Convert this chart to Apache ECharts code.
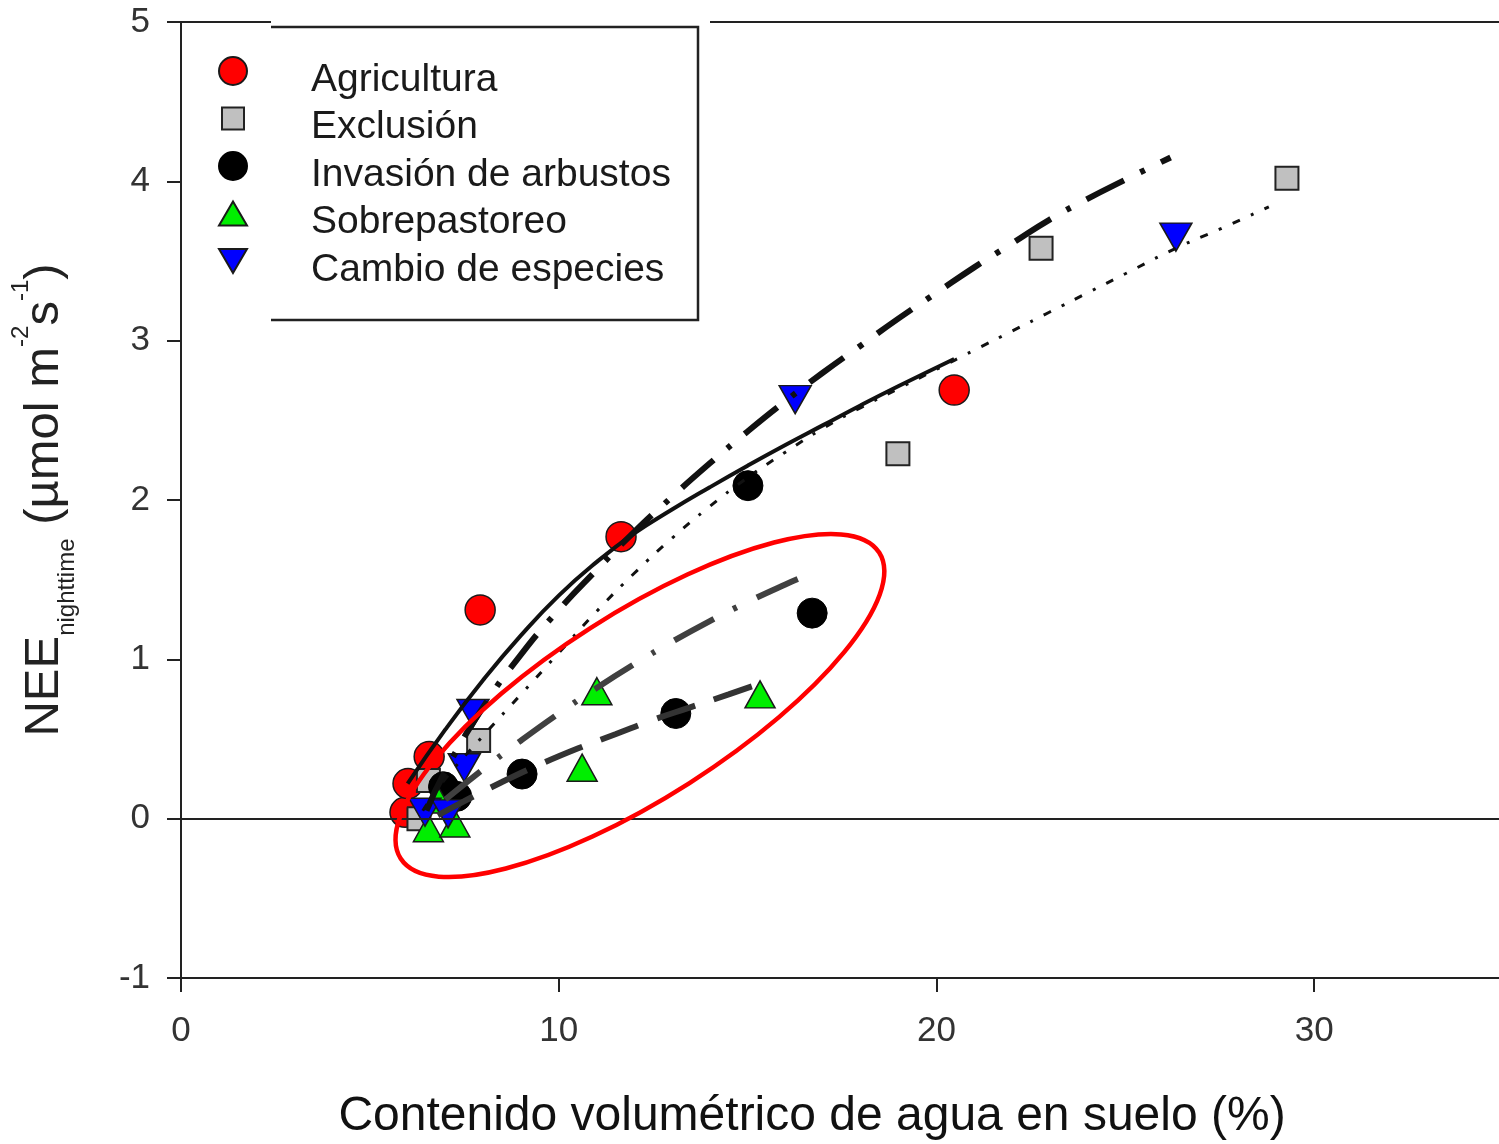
<!DOCTYPE html>
<html>
<head>
<meta charset="utf-8">
<script src="https://cdn.jsdelivr.net/npm/echarts@6/dist/echarts.min.js"></script>
<style>
  html, body { margin: 0; padding: 0; background: #ffffff; width: 100%; height: 100%; overflow: hidden; }
  #chart { position: absolute; left: 0; top: 0; width: 1499px; height: 1144px; }
</style>
</head>
<body>
<div id="chart"></div>
<script>
// Axis ticks
const xTicks = [0, 10, 20, 30];
const yTicks = [-1, 0, 1, 2, 3, 4, 5];

// Land-use categories
const seriesNames = ['Agricultura', 'Exclusión', 'Invasión de arbustos', 'Sobrepastoreo', 'Cambio de especies'];

// Observations: [soil water content (%), nighttime NEE]
const agricultura = [[5.93, 0.04], [6.01, 0.22], [6.57, 0.39], [7.92, 1.31], [11.65, 1.77], [20.47, 2.69]];
const exclusion = [[6.30, 0.00], [6.55, 0.24], [7.88, 0.49], [18.98, 2.29], [22.77, 3.58], [29.28, 4.02]];
const invasion = [[6.95, 0.20], [7.30, 0.14], [9.03, 0.28], [13.10, 0.66], [15.01, 2.09], [16.71, 1.29]];
const sobrepastoreo = [[6.55, -0.06], [6.80, 0.12], [7.25, -0.03], [10.62, 0.32], [11.01, 0.80], [15.33, 0.78]];
const cambio = [[6.46, 0.04], [7.07, 0.03], [7.50, 0.32], [7.73, 0.66], [16.26, 2.63], [26.34, 3.65]];

// Fitted response curves, one per category
const fitAgricultura = [[6.0, 0.22], [7.0, 0.56], [8.0, 0.87], [9.0, 1.15], [10.0, 1.40], [11.0, 1.61], [12.0, 1.79], [13.0, 1.94], [14.0, 2.08], [15.0, 2.215], [16.0, 2.345], [17.0, 2.47], [18.0, 2.595], [19.0, 2.715], [20.47, 2.885]];
const fitExclusion = [[6.4, 0.05], [7.0, 0.25], [8.0, 0.52], [9.0, 0.78], [10.0, 1.04], [11.0, 1.30], [12.0, 1.54], [13.0, 1.76], [14.0, 1.96], [15.0, 2.14], [16.0, 2.30], [17.0, 2.45], [18.0, 2.58], [19.0, 2.70], [20.0, 2.82], [21.0, 2.94], [22.0, 3.06], [23.0, 3.18], [24.0, 3.30], [25.0, 3.42], [26.34, 3.58], [27.5, 3.70], [28.8, 3.84]];
const fitInvasion = [[7.0, 0.12], [8.0, 0.31], [9.0, 0.49], [10.0, 0.66], [11.0, 0.82], [12.0, 0.97], [13.0, 1.11], [14.0, 1.24], [15.0, 1.36], [16.0, 1.47], [16.5, 1.52]];
const fitSobrepastoreo = [[6.8, 0.02], [7.5, 0.11], [8.5, 0.23], [9.5, 0.34], [10.5, 0.44], [11.5, 0.53], [12.5, 0.62], [13.5, 0.70], [14.5, 0.78], [15.35, 0.85]];
const fitCambio = [[6.5, 0.05], [7.0, 0.30], [8.0, 0.70], [9.0, 1.03], [10.0, 1.31], [11.0, 1.56], [12.0, 1.80], [13.0, 2.02], [14.0, 2.23], [15.0, 2.43], [16.0, 2.62], [17.0, 2.80], [18.0, 2.97], [19.0, 3.14], [20.0, 3.30], [21.0, 3.46], [22.0, 3.61], [23.0, 3.76], [24.0, 3.89], [25.0, 4.01], [26.2, 4.15]];

// Highlighted group of low-response sites (centre in data units)
const highlightCentre = [12.15, 0.71];

const FONT = '"Liberation Sans", Arial, Helvetica, sans-serif';

// Legend glyphs: drawn in the top 28px of a 28x46 box so the label sits a little lower
const ICON_CIRCLE = 'path://M0,0M28,46M0,14A14,14,0,1,0,28,14A14,14,0,1,0,0,14Z';
const ICON_SQUARE = 'path://M0,0M28,46M3,3H25V25H3Z';
const ICON_UP = 'path://M0,0M28,46M14,2L28,26L0,26Z';
const ICON_DOWN = 'path://M0,0M28,46M0,2L28,2L14,26Z';

const chart = echarts.init(document.getElementById('chart'), null, { renderer: 'canvas' });

function scatter(name, data, symbol, size, itemStyle, extra) {
  return Object.assign({
    name: name,
    type: 'scatter',
    data: data,
    symbol: symbol,
    symbolSize: size,
    z: 2,
    itemStyle: Object.assign({ borderColor: '#1a1a1a', borderWidth: 1.5, opacity: 1 }, itemStyle),
    emphasis: { disabled: true }
  }, extra || {});
}

function fit(name, data, color, width, dash) {
  return {
    name: name,
    type: 'line',
    data: data,
    showSymbol: false,
    symbol: 'none',
    smooth: 0.5,
    z: 3,
    silent: true,
    lineStyle: { color: color, width: width, type: dash, cap: 'butt' },
    emphasis: { disabled: true }
  };
}

const option = {
  backgroundColor: '#ffffff',
  animation: false,
  grid: {
    left: 181, top: 22, width: 1322, height: 956,
    containLabel: false, outerBoundsMode: 'none',
    show: true, borderColor: '#222', borderWidth: 2, backgroundColor: 'transparent'
  },
  xAxis: {
    type: 'value', min: 0, max: 35, interval: 10,
    name: 'Contenido volumétrico de agua en suelo (%)',
    nameLocation: 'middle', nameGap: 111,
    nameTextStyle: { fontSize: 48, fontFamily: FONT, color: '#111', lineHeight: 56, padding: [0, 60, 0, 0] },
    axisLine: { show: true, onZero: false, lineStyle: { color: '#222', width: 2 } },
    axisTick: { show: true, inside: false, length: 14, lineStyle: { color: '#222', width: 2 }, customValues: xTicks },
    axisLabel: { fontSize: 35, fontFamily: FONT, color: '#333', margin: 36, customValues: xTicks },
    splitLine: { show: false }
  },
  yAxis: {
    type: 'value', min: -1, max: 5, interval: 1,
    name: '{a|NEE}{b|nighttime}{a| (µmol m}{c|-2}{a|s}{c|-1}{a|)}',
    nameLocation: 'middle', nameRotate: 90, nameGap: 102,
    nameTextStyle: {
      fontSize: 49, fontFamily: FONT, color: '#222',
      rich: {
        a: { fontSize: 49, lineHeight: 70, fontFamily: FONT, color: '#222' },
        b: { fontSize: 24, lineHeight: 24, verticalAlign: 'bottom', fontFamily: FONT, color: '#222' },
        c: { fontSize: 24, lineHeight: 24, verticalAlign: 'top', fontFamily: FONT, color: '#222' }
      }
    },
    axisLine: { show: true, onZero: false, lineStyle: { color: '#222', width: 2 } },
    axisTick: { show: true, inside: false, length: 14, lineStyle: { color: '#222', width: 2 }, customValues: yTicks },
    axisLabel: { fontSize: 35, fontFamily: FONT, color: '#333', margin: 31, customValues: yTicks },
    splitLine: { show: false }
  },
  legend: {
    data: [
      { name: seriesNames[0], icon: ICON_CIRCLE },
      { name: seriesNames[1], icon: ICON_SQUARE },
      { name: seriesNames[2], icon: ICON_CIRCLE },
      { name: seriesNames[3], icon: ICON_UP },
      { name: seriesNames[4], icon: ICON_DOWN }
    ],
    orient: 'vertical', left: 218, top: 56, padding: 0,
    itemWidth: 28, itemHeight: 46, itemGap: -0.5,
    symbolKeepAspect: true,
    selectedMode: false, z: 10,
    textStyle: { fontSize: 39, fontFamily: FONT, color: '#1a1a1a', lineHeight: 40, padding: [0, 0, 0, 59] }
  },
  series: [
    scatter(seriesNames[0], agricultura, 'circle', 30, { color: '#ff0000' }, {
      markLine: {
        silent: true, symbol: 'none', label: { show: false },
        lineStyle: { color: '#222', width: 2, type: 'solid' },
        data: [{ yAxis: 0 }]
      }
    }),
    scatter(seriesNames[1], exclusion, 'rect', 23, { color: '#c0c0c0', borderColor: '#222', borderWidth: 2 }),
    scatter(seriesNames[2], invasion, 'circle', 30, { color: '#000000', borderColor: '#000000', borderWidth: 1 }),
    scatter(seriesNames[3], sobrepastoreo, 'triangle', [30, 27], { color: '#00ee00' }),
    scatter(seriesNames[4], cambio, 'triangle', [32, 28], { color: '#0000ff' }, { symbolRotate: 180 }),
    fit('Ajuste Agricultura', fitAgricultura, '#111', 4, 'solid'),
    fit('Ajuste Exclusión', fitExclusion, '#111', 3, [8, 12, 3, 12]),
    fit('Ajuste Invasión de arbustos', fitInvasion, '#404040', 6, [45, 22, 4, 22]),
    fit('Ajuste Sobrepastoreo', fitSobrepastoreo, '#333', 6, [40, 20]),
    fit('Ajuste Cambio de especies', fitCambio, '#111', 6, [42, 18, 5, 18])
  ],
  graphic: {
    elements: [
      { id: 'legendBg', type: 'rect', z: 5, silent: true,
        shape: { x: 271, y: 12, width: 439, height: 314 },
        style: { fill: '#ffffff', stroke: null } },
      { id: 'legendFrame', type: 'polyline', z: 6, silent: true,
        shape: { points: [[271, 27], [698, 27], [698, 320], [271, 320]] },
        style: { stroke: '#222', lineWidth: 2.5, fill: null } }
    ]
  }
};

chart.setOption(option);

// Red outline around the low-response group, placed in data space
const c = chart.convertToPixel({ gridIndex: 0 }, highlightCentre);
chart.setOption({
  graphic: {
    elements: [
      { id: 'highlight', type: 'ellipse', z: 8, silent: true,
        x: c[0], y: c[1], rotation: 32.6 * Math.PI / 180,
        shape: { cx: 0, cy: 0, rx: 284, ry: 92 },
        style: { fill: null, stroke: '#ff0000', lineWidth: 4.5 } }
    ]
  }
});
</script>
</body>
</html>
